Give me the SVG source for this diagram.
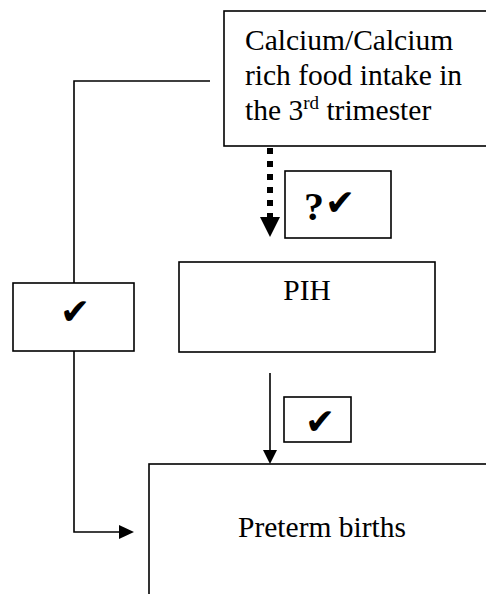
<svg xmlns="http://www.w3.org/2000/svg" width="486" height="594" viewBox="0 0 486 594">
<style>
.box{fill:#fff;stroke:#000;stroke-width:1.6}
.ln{fill:none;stroke:#000;stroke-width:1.6}
.t{font-family:"Liberation Serif","Times New Roman",serif;font-size:29.5px;fill:#000}
.ck{font-family:"DejaVu Sans",sans-serif;font-size:36px;fill:#000}
</style>
<rect width="486" height="594" fill="#fff"/>
<g id="connectors">
<polyline class="ln" points="210,81 74,81 74,283"/>
<polyline class="ln" points="74,351 74,532 120,532"/>
<polygon points="119,525 134,532 119,539" fill="#000"/>
<line x1="270" y1="148" x2="270" y2="217" stroke="#000" stroke-width="6" stroke-dasharray="6 7"/>
<polygon points="260,217 280,217 270,237" fill="#000"/>
<line class="ln" x1="270" y1="373" x2="270" y2="451"/>
<polygon points="263,450 277,450 270,464" fill="#000"/>
</g>
<g id="calcium">
<rect class="box" x="224" y="11" width="290" height="135"/>
<text class="t" x="245" y="50">Calcium/Calcium</text>
<text class="t" x="245" y="85">rich food intake in</text>
<text class="t" x="245" y="120">the 3<tspan font-size="19" dy="-11">rd</tspan><tspan dy="11"> trimester</tspan></text>
</g>
<g id="label-q">
<rect class="box" x="285" y="171" width="106" height="67"/>
<text x="304" y="220" font-family="Liberation Serif,serif" font-weight="bold" font-size="40">?</text>
<text class="ck" x="325" y="215">✔</text>
</g>
<g id="pih">
<rect class="box" x="179" y="262" width="256" height="90"/>
<text class="t" x="307" y="300" text-anchor="middle">PIH</text>
</g>
<g id="label-left">
<rect class="box" x="13" y="283" width="121" height="68"/>
<text class="ck" x="75" y="324" text-anchor="middle">✔</text>
</g>
<g id="label-mid">
<rect class="box" x="284" y="397" width="67" height="45"/>
<text class="ck" x="320" y="434" text-anchor="middle">✔</text>
</g>
<g id="preterm">
<rect class="box" x="149" y="464" width="400" height="200"/>
<text class="t" x="322" y="537" text-anchor="middle">Preterm births</text>
</g>
</svg>
